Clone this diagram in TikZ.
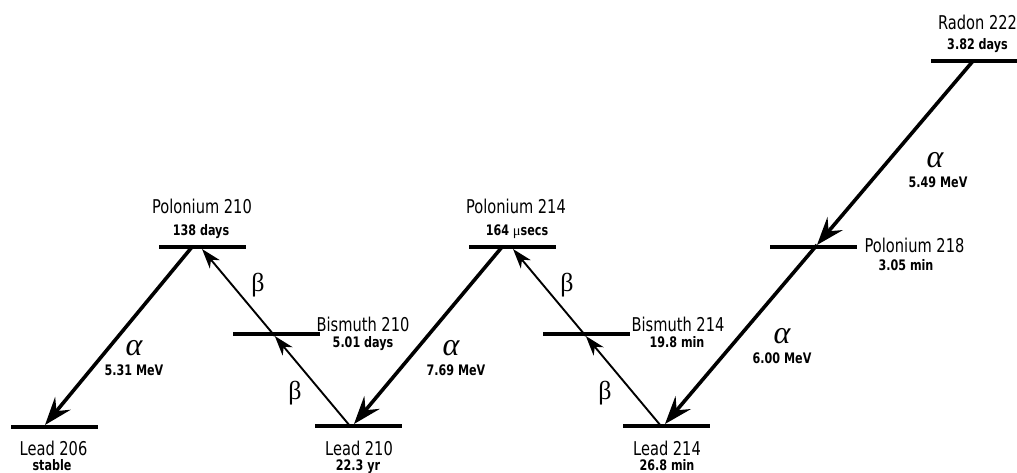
\documentclass[tikz,border=0pt]{standalone}
\usepackage{fontspec}
\setmainfont{DejaVu Sans}[FakeStretch=0.77]
\newfontfamily\grk{Liberation Serif}
\usetikzlibrary{arrows.meta,calc}
\begin{document}
\begin{tikzpicture}[x=1pt,y=-1pt,
  lvl/.style={fill=black, minimum width=87pt, minimum height=4pt, inner sep=0pt, outer sep=0pt},
  nuc/.style={font=\fontsize{19}{19}\selectfont, inner sep=0pt, anchor=base},
  life/.style={font=\bfseries\fontsize{14.5}{14.5}\selectfont, inner sep=0pt, anchor=base},
  aarrow/.style={line width=3.6pt, -{Stealth[length=28pt,width=20pt,inset=10pt]}},
  barrow/.style={line width=1.9pt, -{Stealth[length=20pt,width=13pt,inset=6pt]}},
  alab/.style={font=\grk\itshape\fontsize{32}{32}\selectfont, inner sep=0pt, anchor=base},
  blab/.style={font=\grk\fontsize{26}{26}\selectfont, inner sep=0pt, anchor=base}]
\useasboundingbox (0,0) rectangle (1017,473);

% energy levels
\node[lvl] (pb206) at (54,427) {};
\node[lvl] (po210) at (202,247) {};
\node[lvl] (bi210) at (276,334) {};
\node[lvl] (pb210) at (358,426) {};
\node[lvl] (po214) at (512,247) {};
\node[lvl] (bi214) at (586,334) {};
\node[lvl] (pb214) at (666,426) {};
\node[lvl] (po218) at (813,247) {};
\node[lvl] (rn222) at (974,61) {};

% labels
\node[nuc] (trn) at (977.5,30) {Radon 222};
\node[life] (lrn) at (977.5,50) {3.82 days};
\node[nuc] (tpo218) at (914.5,252) {Polonium 218};
\node[life] (lpo218) at (906,270) {3.05 min};
\node[nuc] (tpo210) at (202,214) {Polonium 210};
\node[life] (lpo210) at (201,235) {138 days};
\node[nuc] (tbi210) at (363,331) {Bismuth 210};
\node[life] (lbi210) at (363,347) {5.01 days};
\node[nuc] (tpb206) at (53.5,455) {Lead 206};
\node[life] (lpb206) at (52,470) {stable};
\node[nuc] (tpb210) at (359,455) {Lead 210};
\node[life] (lpb210) at (358,470) {22.3 yr};
\node[nuc] (tpo214) at (516,214) {Polonium 214};
\node[life] (lpo214) at (517,235) {164 {\grk\mdseries μ}secs};
\node[nuc] (tbi214) at (678,331) {Bismuth 214};
\node[life] (lbi214) at (677,347) {19.8 min};
\node[nuc] (tpb214) at (667,455) {Lead 214};
\node[life] (lpb214) at (667,470) {26.8 min};

% arrow end points
\coordinate (a1s) at ($(po210.center)+(-10,0)$);
\coordinate (a1e) at ($(pb206.north)+(-9,0)$);
\coordinate (b1s) at ($(pb210.center)+(-8,0)$);
\coordinate (b1e) at ($(po210.south)+(0,0)$);
\coordinate (a2s) at ($(po214.center)+(-10,0)$);
\coordinate (a2e) at ($(pb210.north)+(-4,0)$);
\coordinate (b2s) at ($(pb214.center)+(-5,0)$);
\coordinate (b2e) at ($(po214.south)+(1,0)$);
\coordinate (a3s) at ($(rn222.center)+(-1,0)$);
\coordinate (a3e) at ($(pb214.north)+(-1,0)$);

\coordinate (x1) at (intersection of b1s--b1e and bi210.south west--bi210.south east);
\coordinate (x2) at (intersection of b2s--b2e and bi214.south west--bi214.south east);
\coordinate (x3) at (intersection of a3s--a3e and po218.north west--po218.north east);

% alpha decays
\draw[aarrow] (a1s) -- (a1e);
\draw[aarrow] (a2s) -- (a2e);
\draw[aarrow] (a3s) -- (x3);
\draw[aarrow] (x3) -- (a3e);
% beta decays
\draw[barrow] (b1s) -- (x1);
\draw[barrow] (x1) -- (b1e);
\draw[barrow] (b2s) -- (x2);
\draw[barrow] (x2) -- (b2e);

% decay labels
\node[alab] (al1) at (134,355) {α};
\node[life] (e1) at (134,375) {5.31 MeV};
\node[alab] (al2) at (451,355) {α};
\node[life] (e2) at (456,375) {7.69 MeV};
\node[alab] (al3) at (935,168) {α};
\node[life] (e3) at (938,188) {5.49 MeV};
\node[alab] (al4) at (782,343) {α};
\node[life] (e4) at (782,363) {6.00 MeV};
\node[blab] (be1) at (258,291) {β};
\node[blab] (be2) at (295,399) {β};
\node[blab] (be3) at (567,291) {β};
\node[blab] (be4) at (605,399) {β};
\end{tikzpicture}
\end{document}
